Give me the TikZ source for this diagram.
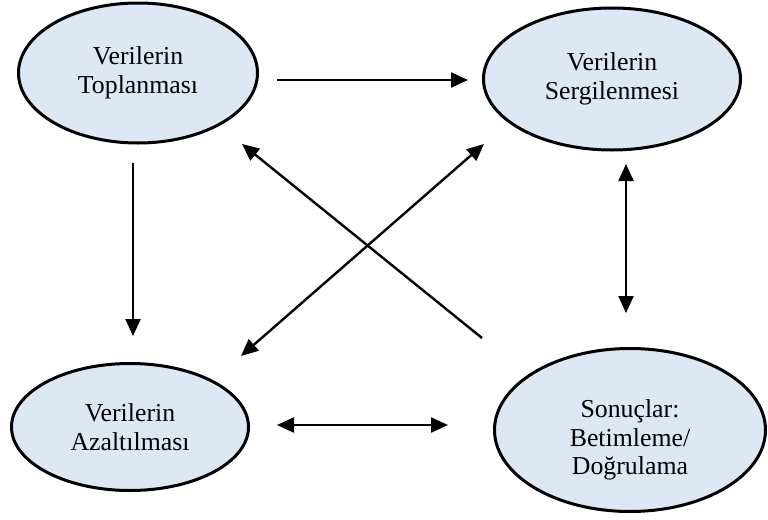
\documentclass[tikz,border=0pt]{standalone}
\usepackage{fontspec}
\setmainfont{Liberation Serif}
\usepackage{tikz}
\usetikzlibrary{shapes.geometric,arrows.meta}
\usetikzlibrary{positioning}

\definecolor{boxblue}{RGB}{221,232,245}

\tikzset{
  box/.style={ellipse, draw, line width=1.5pt, fill=boxblue, align=center,
    inner sep=0pt, font=\fontsize{12.9}{14.3}\selectfont},
  arr/.style={line width=1.2pt, -{Triangle[length=8.5pt,width=7.5pt]}},
  darr/.style={line width=1.2pt,
    {Triangle[length=8.5pt,width=7.5pt]}-{Triangle[length=8.5pt,width=7.5pt]}},
}

\begin{document}
\begin{tikzpicture}[x=0.5pt,y=-0.5pt]
			\useasboundingbox (0,0) rectangle (768,520);
			% ellipses
			\node[box, minimum width=119.5pt, minimum height=70pt] (toplama) at (138,73) {Verilerin\\Toplanması};
			\node[box, minimum width=128.5pt, minimum height=71pt] (sergi) at (612,79) {Verilerin\\Sergilenmesi};
			\node[box, minimum width=118.5pt, minimum height=63.5pt] (azalt) at (130,427) {Verilerin\\Azaltılması};
			\node[box, minimum width=135.5pt, minimum height=81.5pt] (sonuc) at (630,430) {\rule{0pt}{19pt}Sonuçlar:\\Betimleme/\\Doğrulama};
			% arrow ends
			\coordinate (t1) at (277,80);   \coordinate (t2) at (468,80);
			\coordinate (b1) at (277,425);  \coordinate (b2) at (448,425);
			\coordinate (l1) at (133,163);  \coordinate (l2) at (133,336);
			\coordinate (r1) at (626,164);  \coordinate (r2) at (626,313);
			\coordinate (c1) at (482,338);  \coordinate (c2) at (242,144);
			\coordinate (d1) at (241,356);  \coordinate (d2) at (484,144);
			% arrows
			\draw[arr] (t1) -- (t2);
			\draw[darr] (b1) -- (b2);
			\draw[arr] (l1) -- (l2);
			\draw[darr] (r1) -- (r2);
			\draw[arr] (c1) -- (c2);
			\draw[darr] (d1) -- (d2);
\end{tikzpicture}
\end{document}
